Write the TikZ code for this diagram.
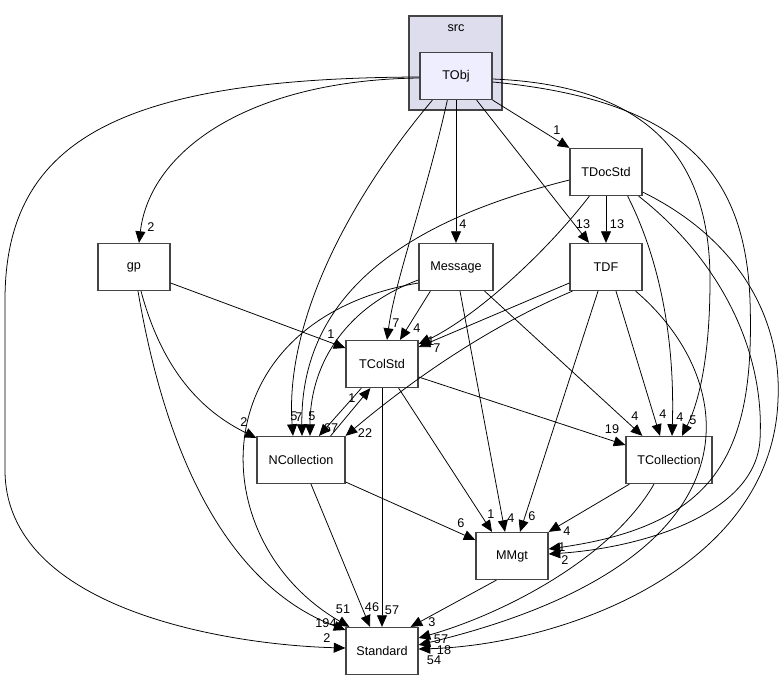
\documentclass[tikz,border=0pt]{standalone}
\usepackage{fontspec}
\setmainfont{Liberation Sans}
\usepackage{tikz}
\usetikzlibrary{arrows.meta,calc}

\definecolor{clusterfill}{HTML}{DDDDEE}
\definecolor{objfill}{HTML}{EEEEFF}
\definecolor{boxline}{HTML}{444444}

\begin{document}
\begin{tikzpicture}[
  x=0.25mm, y=-0.25mm,
  font=\fontsize{9}{10}\selectfont,
  box/.style={draw=boxline, line width=0.9pt, fill=white,
              minimum width=18mm, minimum height=11.75mm, inner sep=0pt},
  cluster/.style={draw=boxline, line width=0.9pt, fill=clusterfill},
  dep/.style={-{Triangle[length=2.9mm, width=2.5mm]}, line width=0.55pt, black},
  lbl/.style={inner sep=0pt},
]
\useasboundingbox (0,0) rectangle (784,681);

% directory src
\filldraw[cluster] (409,16) rectangle (502,110);
\node (src) at (456,28) {src};
\node[box, fill=objfill] (TObj) at (456,76) {TObj};

\node[box] (TDocStd) at (606,172) {TDocStd};
\node[box] (gp) at (134,267) {gp};
\node[box, minimum width=18.5mm] (Message) at (456,267) {Message};
\node[box] (TDF) at (606,267) {TDF};
\node[box] (TColStd) at (382,364) {TColStd};
\node[box, minimum width=22mm] (NCollection) at (301,460) {NCollection};
\node[box, minimum width=21.5mm] (TCollection) at (669,460) {TCollection};
\node[box] (MMgt) at (512,556) {MMgt};
\node[box] (Standard) at (382,651) {Standard};

% from TObj
\draw[dep] (TObj.south east) -- (TDocStd.north west);
\draw[dep] ($(TObj.west)+(0,2)$) .. controls (250,80) and (150,150) .. ($(gp.north)+(5,0)$);
\draw[dep] ($(TObj.west)+(0,1)$) .. controls (120,78) and (5,140) .. (5,300)
  -- (5,470) .. controls (5,610) and (230,645) .. ($(Standard.west)+(0,-3)$);
\draw[dep] ($(TObj.south west)+(13,0)$) .. controls (340,210) and (285,330) .. ($(NCollection.north)+(-8,0)$);
\draw[dep] ($(TObj.south west)+(28,0)$) .. controls (425,200) and (395,280) .. ($(TColStd.north)+(5,0)$);
\draw[dep] (TObj) -- (Message);
\draw[dep] ($(TObj.south east)+(-16,0)$) -- ($(TDF.north)+(-17,0)$);
\draw[dep] ($(TObj.east)+(0,3)$) .. controls (640,85) and (710,150) .. (710,280)
  .. controls (710,370) and (695,410) .. ($(TCollection.north)+(13,0)$);
\draw[dep] ($(TObj.east)+(0,6)$) .. controls (680,100) and (745,170) .. (750,300)
  .. controls (755,450) and (720,525) .. ($(MMgt.east)+(0,-7)$);

% from TDocStd
\draw[dep] (TDocStd) -- (TDF);
\draw[dep] ($(TDocStd.south west)+(20,0)$) .. controls (540,260) and (470,320) .. ($(TColStd.east)+(0,-20)$);
\draw[dep] ($(TDocStd.west)+(0,8)$) .. controls (430,215) and (300,280) .. ($(NCollection.north)+(1,0)$);
\draw[dep] ($(TDocStd.south east)+(-15,0)$) .. controls (660,260) and (675,340) .. ($(TCollection.north)+(3,0)$);
\draw[dep] ($(TDocStd.south east)+(-4,0)$) .. controls (720,260) and (765,350) .. (760,440)
  .. controls (755,515) and (640,548) .. ($(MMgt.east)+(0,-2)$);
\draw[dep] ($(TDocStd.east)+(0,20)$) .. controls (740,240) and (782,320) .. (778,400)
  .. controls (772,570) and (560,645) .. ($(Standard.east)+(0,-2)$);

% from gp
\draw[dep] ($(gp.east)+(0,16)$) -- ($(TColStd.west)+(0,-16)$);
\draw[dep] ($(gp.south)+(7,0)$) .. controls (165,380) and (210,415) .. ($(NCollection.west)+(0,-22)$);
\draw[dep] ($(gp.south)+(4,0)$) .. controls (170,480) and (240,590) .. ($(Standard.west)+(0,-21)$);

% from Message
\draw[dep] ($(Message.west)+(0,16)$) .. controls (200,320) and (200,540) .. ($(Standard.north west)+(4,0)$);
\draw[dep] ($(Message.south west)+(12,0)$) -- ($(TColStd.north)+(18,0)$);
\draw[dep] ($(Message.west)+(0,13)$) .. controls (350,305) and (310,360) .. ($(NCollection.north)+(9,0)$);
\draw[dep] ($(Message.south)+(4,0)$) -- ($(MMgt.north)+(-7,0)$);
\draw[dep] ($(Message.south east)+(-9,0)$) -- ($(TCollection.north west)+(17,0)$);

% from TDF
\draw[dep] ($(TDF.west)+(0,16)$) -- ($(TColStd.east)+(0,-17)$);
\draw[dep] ($(TDF.south west)+(3,0)$) .. controls (480,330) and (400,390) .. (NCollection.north east);
\draw[dep] ($(TDF.south)+(-8,0)$) -- ($(MMgt.north)+(8,0)$);
\draw[dep] ($(TDF.south)+(10,0)$) -- ($(TCollection.north)+(-9,0)$);
\draw[dep] ($(TDF.south east)+(-7,0)$) .. controls (740,380) and (770,560) .. ($(Standard.east)+(0,-6)$);

% from TColStd
\draw[dep] ($(TColStd.south west)+(16,0)$) -- ($(NCollection.north)+(18,0)$);
\draw[dep] ($(TColStd.east)+(0,13)$) -- ($(TCollection.west)+(0,-15)$);
\draw[dep] ($(TColStd.south east)+(-20,0)$) -- ($(MMgt.north)+(-20,0)$);
\draw[dep] (TColStd) -- (Standard);

% from NCollection
\draw[dep] ($(NCollection.north east)+(-15,0)$) -- ($(TColStd.south west)+(25,0)$);
\draw[dep] ($(NCollection.east)+(0,22)$) -- ($(MMgt.west)+(0,-16)$);
\draw[dep] ($(NCollection.south)+(10,0)$) -- ($(Standard.north)+(-12,0)$);

% from TCollection and MMgt
\draw[dep] ($(TCollection.south west)+(4,0)$) -- (MMgt.north east);
\draw[dep] ($(TCollection.south)+(-15,0)$) .. controls (610,560) and (500,615) .. ($(Standard.east)+(0,-13)$);
\draw[dep] ($(MMgt.south west)+(21,0)$) -- ($(Standard.north east)+(-8,0)$);

% edge counts
\node[lbl] (cObjDoc) at (557,130) {1};
\node[lbl] (cObjGp) at (151,227) {2};
\node[lbl] (cObjStd) at (327,638) {2};
\node[lbl] (cObjNC) at (294,416) {5};
\node[lbl] (cDocNC) at (299,417) {7};
\node[lbl] (cObjCS) at (396,323) {7};
\node[lbl] (cObjMsg) at (463,224) {4};
\node[lbl] (cObjTDF) at (583,224) {13};
\node[lbl] (cObjTC) at (693,420) {5};
\node[lbl] (cObjMM) at (562,547) {1};
\node[lbl] (cDocTDF) at (617,224) {13};
\node[lbl] (cDocCS) at (431,341) {1};
\node[lbl] (cDocTC) at (680,417) {4};
\node[lbl] (cDocMM) at (565,560) {2};
\node[lbl] (cDocStd) at (434,660) {54};
\node[lbl] (cGpCS) at (331,334) {1};
\node[lbl] (cGpNC) at (244,422) {2};
\node[lbl] (cGpStd) at (326,623) {194};
\node[lbl] (cMsgStd) at (343,609) {51};
\node[lbl] (cMsgCS) at (417,328) {4};
\node[lbl] (cMsgNC) at (312,416) {5};
\node[lbl] (cMsgMM) at (511,518) {4};
\node[lbl] (cMsgTC) at (635,416) {4};
\node[lbl] (cTDFCS) at (437,348) {7};
\node[lbl] (cTDFNC) at (365,433) {22};
\node[lbl] (cTDFMM) at (532,516) {6};
\node[lbl] (cTDFTC) at (663,414) {4};
\node[lbl] (cTDFStd) at (444,650) {18};
\node[lbl] (cCSNC) at (331,428) {67};
\node[lbl] (cCSTC) at (612,429) {19};
\node[lbl] (cCSMM) at (491,514) {1};
\node[lbl] (cCSStd) at (392,610) {57};
\node[lbl] (cNCCS) at (352,398) {1};
\node[lbl] (cNCMM) at (461,523) {6};
\node[lbl] (cNCStd) at (372,607) {46};
\node[lbl] (cTCMM) at (567,531) {4};
\node[lbl] (cTCStd) at (441,639) {57};
\node[lbl] (cMMStd) at (432,622) {3};

\end{tikzpicture}
\end{document}
